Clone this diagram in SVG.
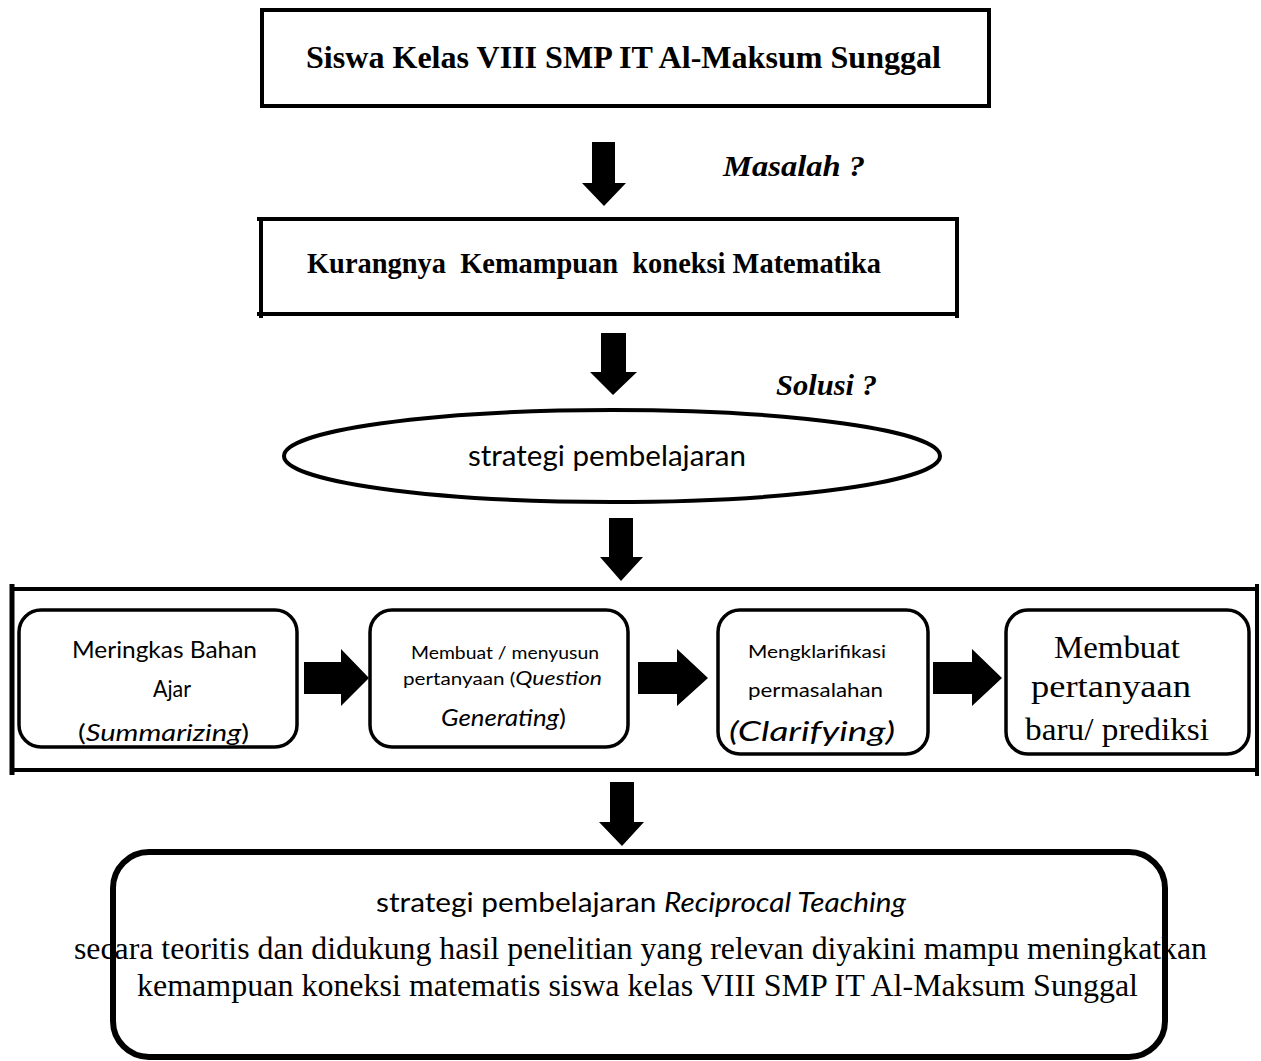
<svg xmlns="http://www.w3.org/2000/svg" width="1261" height="1061" viewBox="0 0 1261 1061">
<style>
.ln{stroke:#000;fill:none}
.box{fill:#fff;stroke:#000;stroke-width:4}
.rbox{fill:#fff;stroke:#000;stroke-width:3.5}
.arr{fill:#000;stroke:none}
.tb{font-family:"Liberation Serif","Times New Roman",serif;font-weight:bold;fill:#000}
.tbi{font-family:"Liberation Serif","Times New Roman",serif;font-weight:bold;font-style:italic;fill:#000}
.tr{font-family:"Liberation Serif","Times New Roman",serif;fill:#000}
.cs{font-family:Lato,"Noto Sans",sans-serif;fill:#000}
.it{font-style:italic}
</style>
<rect width="1261" height="1061" fill="#fff"/>

<g id="node-siswa">
<rect class="box" x="262" y="10" width="727" height="96"/>
<text class="tb" x="306" y="68" font-size="32" textLength="635" lengthAdjust="spacingAndGlyphs">Siswa Kelas VIII SMP IT Al-Maksum Sunggal</text>
</g>

<g id="label-masalah">
<text class="tbi" x="723" y="176" font-size="29" textLength="142" lengthAdjust="spacingAndGlyphs">Masalah ?</text>
</g>

<g id="node-kurangnya">
<line class="ln" stroke-width="4" x1="257" y1="219" x2="959" y2="219"/>
<line class="ln" stroke-width="4" x1="257" y1="314" x2="959" y2="314"/>
<line class="ln" stroke-width="4" x1="261" y1="217" x2="261" y2="318"/>
<line class="ln" stroke-width="4" x1="957" y1="217" x2="957" y2="318"/>
<text class="tb" x="307" y="273" font-size="29" textLength="574" lengthAdjust="spacingAndGlyphs" xml:space="preserve" style="white-space:pre">Kurangnya  Kemampuan  koneksi Matematika</text>
</g>

<g id="label-solusi">
<text class="tbi" x="776" y="395" font-size="29" textLength="101" lengthAdjust="spacingAndGlyphs">Solusi ?</text>
</g>

<g id="node-strategi">
<ellipse cx="612" cy="456" rx="328" ry="46" fill="#fff" stroke="#000" stroke-width="4"/>
<text class="cs" x="468" y="466" font-size="29" textLength="278" lengthAdjust="spacingAndGlyphs">strategi pembelajaran</text>
</g>

<g id="node-steps">
<line class="ln" stroke-width="4" x1="12" y1="589" x2="1259" y2="589"/>
<line class="ln" stroke-width="4" x1="12" y1="770" x2="1259" y2="770"/>
<line class="ln" stroke-width="5" x1="12" y1="584" x2="12" y2="775"/>
<line class="ln" stroke-width="4" x1="1257" y1="584" x2="1257" y2="776"/>
</g>

<g id="node-summarizing">
<rect class="rbox" x="19" y="610" width="278" height="137" rx="22"/>
<text class="cs" x="72" y="658" font-size="23" textLength="185" lengthAdjust="spacingAndGlyphs">Meringkas Bahan</text>
<text class="cs" x="153" y="697" font-size="23" textLength="38" lengthAdjust="spacingAndGlyphs">Ajar</text>
<text class="cs" x="78" y="741" font-size="24" textLength="171" lengthAdjust="spacingAndGlyphs">(<tspan class="it">Summarizing</tspan>)</text>
</g>

<g id="node-question">
<rect class="rbox" x="370" y="610" width="258" height="137" rx="22"/>
<text class="cs" x="411" y="659" font-size="18" textLength="188" lengthAdjust="spacingAndGlyphs">Membuat / menyusun</text>
<text class="cs" x="403" y="685" font-size="18" textLength="199" lengthAdjust="spacingAndGlyphs">pertanyaan (<tspan class="it" font-size="20">Question</tspan></text>
<text class="cs" x="441" y="726" font-size="23" textLength="125" lengthAdjust="spacingAndGlyphs"><tspan class="it">Generating</tspan>)</text>
</g>

<g id="node-clarifying">
<rect class="rbox" x="718" y="610" width="210" height="144" rx="22"/>
<text class="cs" x="748" y="658" font-size="18" textLength="138" lengthAdjust="spacingAndGlyphs">Mengklarifikasi</text>
<text class="cs" x="748" y="697" font-size="19" textLength="135" lengthAdjust="spacingAndGlyphs">permasalahan</text>
<text class="cs it" x="729" y="741" font-size="27" textLength="166" lengthAdjust="spacingAndGlyphs">(Clarifying)</text>
</g>

<g id="node-prediksi">
<rect class="rbox" x="1006" y="610" width="243" height="144" rx="22"/>
<text class="tr" x="1054" y="658" font-size="31" textLength="126" lengthAdjust="spacingAndGlyphs">Membuat</text>
<text class="tr" x="1031" y="697" font-size="31" textLength="160" lengthAdjust="spacingAndGlyphs">pertanyaan</text>
<text class="tr" x="1025" y="740" font-size="31" textLength="184" lengthAdjust="spacingAndGlyphs">baru/ prediksi</text>
</g>

<g id="node-reciprocal">
<rect x="113" y="852" width="1052" height="205" rx="36" fill="#fff" stroke="#000" stroke-width="6"/>
<text class="cs" x="376" y="912" font-size="27" textLength="530" lengthAdjust="spacingAndGlyphs">strategi pembelajaran <tspan class="it">Reciprocal Teaching</tspan></text>
<text class="tr" x="74" y="959" font-size="31.5" textLength="1133" lengthAdjust="spacingAndGlyphs">secara teoritis dan didukung hasil penelitian yang relevan diyakini mampu meningkatkan</text>
<text class="tr" x="137" y="996" font-size="31.5" textLength="1001" lengthAdjust="spacingAndGlyphs">kemampuan koneksi matematis siswa kelas VIII SMP IT Al-Maksum Sunggal</text>
</g>

<g id="connectors">
<polygon class="arr" points="592,142 615,142 615,183 626,183 604,206 582,183 592,183"/>
<polygon class="arr" points="601,333 626,333 626,372 637,372 613,395 590,372 601,372"/>
<polygon class="arr" points="609,518 633,518 633,557 643,557 621,581 600,557 609,557"/>
<polygon class="arr" points="610,782 634,782 634,822 644,822 622,846 599,822 610,822"/>
<polygon class="arr" points="304,662 341,662 341,649 369,678 341,706 341,694 304,694"/>
<polygon class="arr" points="638,662 677,662 677,649 708,678 677,706 677,694 638,694"/>
<polygon class="arr" points="933,662 972,662 972,649 1002,678 972,706 972,694 933,694"/>
</g>
</svg>
